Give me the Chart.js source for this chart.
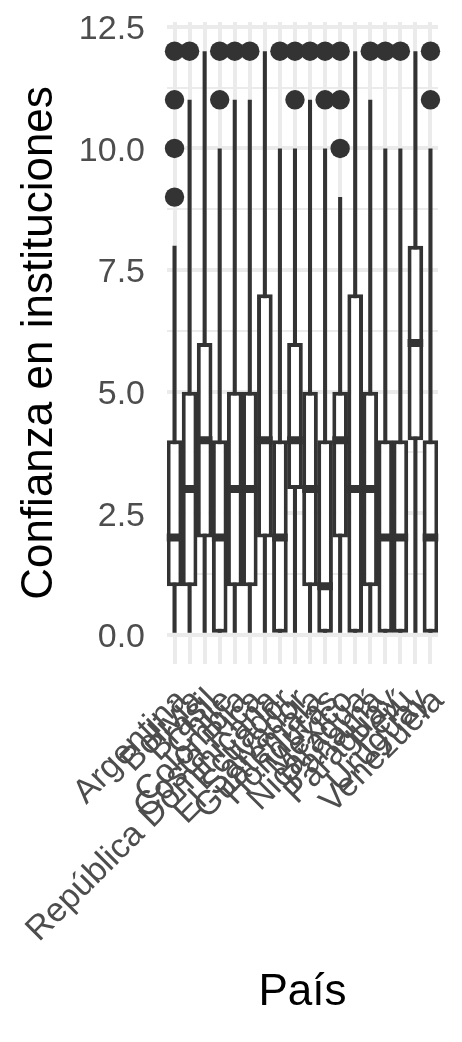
<!DOCTYPE html>
<html><head><meta charset="utf-8">
<script src="https://cdn.jsdelivr.net/npm/chart.js@4.4.1/dist/chart.umd.min.js"></script>
<style>html,body{margin:0;padding:0;background:#fff;} canvas{display:block;}</style>
</head><body>
<canvas id="c" width="462" height="1042"></canvas>
<script>
// ---- data ----
const countries = ['Argentina','Bolivia','Brasil','Chile','Colombia','Costa Rica','República Dominicana','Ecuador','El Salvador','Guatemala','Honduras','México','Nicaragua','Panamá','Paraguay','Perú','Uruguay','Venezuela'];
const whiskerLow  = [0,0,0,0,0,0,0,0,0,0,0,0,0,0,0,0,0,0];
const q1          = [1,1,2,0,1,1,2,0,3,1,0,2,0,1,0,0,4,0];
const medians     = [2,3,4,2,3,3,4,2,4,3,1,4,3,3,2,2,6,2];
const q3          = [4,5,6,4,5,5,7,4,6,5,4,5,7,5,4,4,8,4];
const whiskerHigh = [8,11,12,10,11,11,12,10,10,11,10,9,12,11,10,10,12,10];
const outlierValues = [[9,10,11,12],[12],[],[11,12],[12],[12],[],[12],[11,12],[12],[11,12],[10,11,12],[],[12],[12],[12],[],[11,12]];
const yMajorTicks = [0, 2.5, 5, 7.5, 10, 12.5];
const yMinorTicks = [1.25, 3.75, 6.25, 8.75, 11.25];
const yTickLabels = ['0.0','2.5','5.0','7.5','10.0','12.5'];
const yTitle = 'Confianza en instituciones';
const xTitle = 'País';

const INK = '#333333';
const GRID = '#EBEBEB';
const TXT = '#4D4D4D';
const CLEAR = 'rgba(0,0,0,0)';

const outlierPoints = [];
countries.forEach((c, i) => outlierValues[i].forEach(v => outlierPoints.push({x: c, y: v})));

Chart.defaults.font.family = "'Liberation Sans', Arial, sans-serif";

new Chart(document.getElementById('c'), {
  type: 'bar',
  data: {
    labels: countries,
    datasets: [
      // whiskers
      { type: 'bar', grouped: false, categoryPercentage: 1, barPercentage: 0.27,
        data: countries.map((c, i) => [whiskerLow[i], whiskerHigh[i]]),
        backgroundColor: INK, borderWidth: 0, order: 4 },
      // boxes (Q1..Q3)
      { type: 'bar', grouped: false, categoryPercentage: 1, barPercentage: 1.04,
        data: countries.map((c, i) => [q1[i], q3[i]]),
        backgroundColor: '#FFFFFF', borderColor: INK, borderWidth: 4, borderSkipped: false, order: 3 },
      // medians
      { type: 'line', showLine: false, order: 2,
        data: countries.map((c, i) => ({ x: c, y: medians[i] })),
        pointStyle: 'line', pointRadius: 7.8, pointHoverRadius: 7.8,
        pointBorderColor: INK, pointBorderWidth: 8, pointBackgroundColor: INK },
      // outliers
      { type: 'line', data: outlierPoints, showLine: false, order: 1,
        pointRadius: 9.7, pointHoverRadius: 9.7, pointBackgroundColor: INK, pointBorderWidth: 0 }
    ]
  },
  options: {
    responsive: false, animation: false, events: [],
    layout: { padding: { top: 22, right: 24, left: 0, bottom: 0 } },
    plugins: { legend: { display: false }, tooltip: { enabled: false } },
    scales: {
      x: {
        type: 'category', offset: true,
        grid: { offset: false, color: GRID, lineWidth: 4, drawTicks: true, tickLength: 17, tickColor: CLEAR },
        border: { display: false },
        ticks: { autoSkip: false, minRotation: 45, maxRotation: 45, padding: 0, labelOffset: 8,
                 color: TXT, font: { size: 34 } },
        title: { display: true, text: xTitle, color: '#000', font: { size: 44 }, padding: { top: 0, bottom: 23 } },
        afterFit: s => { s.height = 378; }
      },
      y: {
        min: -0.6, max: 12.6,
        afterBuildTicks: s => { s.ticks = yMajorTicks.concat(yMinorTicks).sort((a, b) => a - b).map(v => ({ value: v })); },
        grid: { color: GRID, drawTicks: true, tickLength: 22, tickColor: CLEAR,
                lineWidth: ctx => (ctx.tick && yMajorTicks.includes(ctx.tick.value)) ? 4 : 2 },
        border: { display: false },
        ticks: { autoSkip: false, padding: 0, color: TXT, font: { size: 34 }, labelOffset: 3,
                 callback: v => { const k = yMajorTicks.indexOf(v); return k >= 0 ? yTickLabels[k] : ''; } },
        title: { display: true, text: yTitle, color: '#000', font: { size: 44 }, padding: { top: 13, bottom: 0 } },
        afterFit: s => { s.width = 167; }
      }
    }
  }
});
</script>
</body></html>
